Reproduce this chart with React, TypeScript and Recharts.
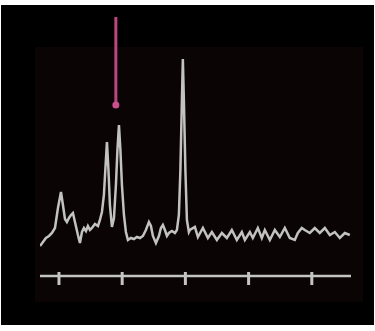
import React from "react"
import {
  LineChart,
  Line,
  XAxis,
  YAxis,
  ReferenceLine,
  ReferenceDot,
} from "recharts"

// chemical shift positions (axis units, ticks at 1..5)
const shifts = [
  0.7, 0.747, 0.794, 0.842, 0.889, 0.937, 0.984, 1.032, 1.063, 1.095,
  1.126, 1.158, 1.19, 1.221, 1.253, 1.3, 1.332, 1.364, 1.395, 1.427,
  1.458, 1.49, 1.522, 1.569, 1.617, 1.648, 1.68, 1.711, 1.735, 1.759,
  1.783, 1.806, 1.838, 1.87, 1.901, 1.925, 1.949, 1.972, 1.996, 2.028,
  2.059, 2.091, 2.138, 2.186, 2.233, 2.281, 2.328, 2.375, 2.423, 2.455,
  2.486, 2.534, 2.581, 2.613, 2.644, 2.676, 2.708, 2.739, 2.787, 2.834,
  2.866, 2.897, 2.921, 2.945, 2.96, 2.976, 3.0, 3.024, 3.055, 3.071,
  3.15, 3.198, 3.277, 3.356, 3.419, 3.498, 3.577, 3.656, 3.735, 3.814,
  3.893, 3.941, 4.02, 4.067, 4.146, 4.209, 4.257, 4.336, 4.415, 4.494,
  4.573, 4.652, 4.731, 4.779, 4.842, 4.889, 4.968, 5.047, 5.126, 5.206,
  5.285, 5.364, 5.443, 5.522, 5.601,
]

// signal intensity at each shift
const intensity = [
  30, 34, 38, 40, 43, 48, 68, 84, 71, 57,
  54, 58, 61, 63, 54, 41, 33, 44, 48, 45,
  50, 46, 48, 52, 50, 56, 64, 81, 108, 134,
  106, 71, 49, 58, 91, 126, 151, 126, 91, 61,
  44, 36, 38, 37, 39, 38, 40, 46, 54, 50,
  40, 33, 40, 48, 51, 46, 40, 43, 45, 43,
  46, 61, 106, 176, 217, 176, 106, 56, 44, 46,
  49, 39, 48, 38, 44, 36, 43, 38, 46, 36,
  44, 36, 44, 38, 48, 38, 46, 36, 46, 39,
  48, 38, 36, 43, 48, 46, 43, 48, 43, 48,
  41, 44, 38, 43, 41,
]

const xTicks = [1, 2, 3, 4, 5]

// arrow marking the peak of interest
const arrowShift = 1.9
const arrowTop = 259
const arrowTip = 171

const data = shifts.map((s, i) => ({ shift: s, value: intensity[i] }))

// tick mark that crosses the axis line slightly
const TickMark = (props: any) => {
  const { x, y } = props
  return <line x1={x} x2={x} y1={y - 4} y2={y + 9} stroke="#c4c4c4" strokeWidth={3} />
}

export default function App() {
  return (
    <div style={{ position: "absolute", left: 0, top: 0, width: 375, height: 331, background: "#fff" }}>
      <div style={{ position: "absolute", left: 1, top: 5, width: 373, height: 320, background: "#000" }} />
      <div style={{ position: "absolute", left: 35, top: 47, width: 328, height: 255, background: "#0a0404" }} />
      <div style={{ position: "absolute", left: 0, top: 0 }}>
        <LineChart
          width={375}
          height={331}
          data={data}
          margin={{ top: 47, right: 24, bottom: 25, left: 40 }}
        >
          <XAxis
            dataKey="shift"
            type="number"
            domain={[0.7, 5.62]}
            ticks={xTicks}
            allowDataOverflow
            height={30}
            tick={<TickMark />}
            tickSize={0}
            tickMargin={0}
            tickLine={false}
            axisLine={{ stroke: "#c4c4c4", strokeWidth: 2.5 }}
          />
          <YAxis hide domain={[0, 229]} allowDataOverflow />
          <Line
            dataKey="value"
            type="linear"
            stroke="#c2c2c2"
            strokeWidth={2.5}
            dot={false}
            isAnimationActive={false}
          />
          <ReferenceLine
            segment={[
              { x: arrowShift, y: arrowTop },
              { x: arrowShift, y: arrowTip },
            ]}
            stroke="#bf4580"
            strokeWidth={3}
            ifOverflow="visible"
          />
          <ReferenceDot
            x={arrowShift}
            y={arrowTip}
            r={3.5}
            fill="#c9508a"
            stroke="none"
            ifOverflow="visible"
          />
        </LineChart>
      </div>
    </div>
  )
}
